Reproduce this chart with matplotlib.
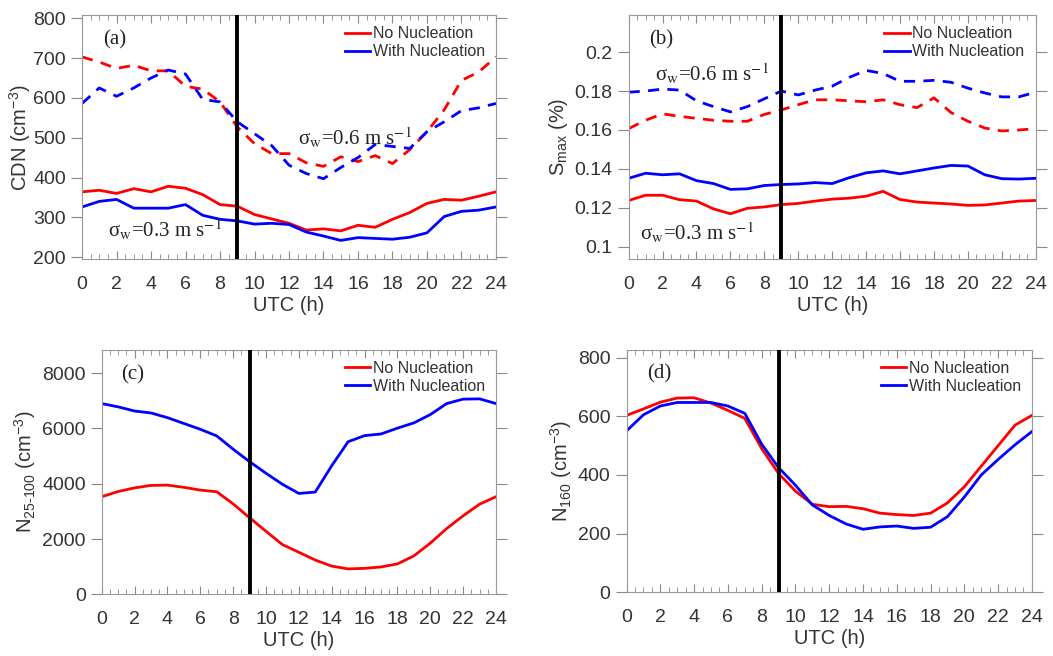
import matplotlib
matplotlib.use("Agg")
import matplotlib.pyplot as plt
from matplotlib.ticker import MultipleLocator

plt.rcParams.update({
    "font.family": "Liberation Sans",
    "mathtext.fontset": "custom",
    "mathtext.rm": "Liberation Sans",
    "mathtext.it": "Liberation Sans:italic",
    "text.color": "#333333",
    "axes.labelcolor": "#333333",
    "xtick.color": "#888888",
    "ytick.color": "#888888",
    "xtick.labelcolor": "#333333",
    "ytick.labelcolor": "#333333",
    "axes.edgecolor": "#999999",
    "font.size": 13,
})

# ── Data ─────────────────────────────────────────────────────────────
hours = list(range(25))

cdn_no_06 = [703, 690, 674, 682, 668, 668, 629, 622, 590, 527, 485, 460, 460,
             437, 428, 452, 440, 455, 435, 470, 515, 570, 644, 665, 703]
cdn_nuc_06 = [586, 625, 604, 625, 650, 670, 660, 596, 590, 540, 510, 480, 431,
              410, 397, 425, 450, 483, 478, 473, 515, 540, 568, 575, 586]
cdn_no_03 = [364, 368, 360, 372, 364, 378, 373, 357, 332, 328, 307, 296, 285,
             268, 271, 266, 280, 275, 295, 312, 335, 345, 343, 353, 364]
cdn_nuc_03 = [326, 340, 345, 323, 323, 323, 332, 305, 295, 291, 283, 285, 282,
              263, 253, 242, 249, 247, 245, 250, 261, 302, 315, 318, 326]

smax_nuc_06 = [0.1794, 0.180, 0.181, 0.1805, 0.175, 0.172, 0.1693, 0.172,
               0.176, 0.180, 0.178, 0.1805, 0.1825, 0.187, 0.1906, 0.189,
               0.185, 0.185, 0.1855, 0.1845, 0.1815, 0.179, 0.177, 0.177, 0.1794]
smax_no_06 = [0.1607, 0.165, 0.1683, 0.167, 0.166, 0.165, 0.1645, 0.1645,
              0.168, 0.1703, 0.173, 0.1755, 0.1755, 0.175, 0.1745, 0.1755,
              0.173, 0.1715, 0.1765, 0.169, 0.1645, 0.161, 0.1595, 0.160, 0.1607]
smax_nuc_03 = [0.1352, 0.1378, 0.137, 0.1375, 0.134, 0.1325, 0.1295, 0.1298,
               0.1315, 0.132, 0.1323, 0.133, 0.1325, 0.1355, 0.138, 0.139,
               0.1375, 0.139, 0.1405, 0.1418, 0.1415, 0.137, 0.135, 0.1348, 0.1352]
smax_no_03 = [0.1238, 0.1265, 0.1265, 0.1242, 0.1235, 0.1195, 0.117, 0.1198,
              0.1205, 0.1217, 0.1223, 0.1235, 0.1245, 0.125, 0.126, 0.1285,
              0.1243, 0.123, 0.1225, 0.122, 0.1213, 0.1215, 0.1225, 0.1235, 0.1238]

n25_no = [3530, 3720, 3850, 3940, 3950, 3870, 3770, 3710, 3270, 2770, 2280,
          1800, 1520, 1240, 1020, 920, 940, 990, 1100, 1390, 1850, 2380, 2840,
          3260, 3530]
n25_nuc = [6900, 6780, 6630, 6560, 6390, 6180, 5970, 5730, 5250, 4800, 4380,
           3980, 3650, 3700, 4650, 5520, 5740, 5800, 6010, 6200, 6500, 6900,
           7060, 7070, 6900]

n160_no = [603, 625, 648, 662, 663, 645, 620, 593, 490, 405, 345, 300, 292,
           293, 285, 270, 265, 262, 270, 305, 360, 430, 500, 570, 603]
n160_nuc = [550, 605, 635, 647, 647, 647, 635, 610, 505, 425, 365, 298, 262,
            233, 215, 223, 226, 218, 222, 258, 325, 400, 453, 503, 548]

RED = "#ff0000"
BLUE = "#0000ff"
SERIF = "Liberation Serif"

fig = plt.figure(figsize=(10.53, 6.56), dpi=100)
ax_a = fig.add_axes([0.0779, 0.605, 0.3931, 0.372])
ax_b = fig.add_axes([0.597, 0.605, 0.3866, 0.372])
ax_c = fig.add_axes([0.0966, 0.094, 0.3744, 0.373])
ax_d = fig.add_axes([0.595, 0.097, 0.385, 0.370])


def style(ax, ylim, ymajor, label, ylabel, ypad=3):
    ax.set_xlim(0, 24)
    ax.set_ylim(*ylim)
    ax.xaxis.set_major_locator(MultipleLocator(2))
    ax.xaxis.set_minor_locator(MultipleLocator(0.5))
    ax.yaxis.set_major_locator(MultipleLocator(ymajor))
    ax.tick_params(axis="x", which="both", direction="in", top=True,
                   labelsize=14, pad=12)
    ax.tick_params(axis="x", which="major", length=6)
    ax.tick_params(axis="x", which="minor", length=3.5)
    ax.tick_params(axis="y", direction="out", right=True, length=8,
                   labelsize=14)
    ax.set_xlabel("UTC (h)", fontsize=14.5, labelpad=2)
    ax.set_ylabel(ylabel, fontsize=14.5, labelpad=ypad)
    ax.axvline(9, color="black", lw=2.8, zorder=5)
    ax.text(0.05, 0.88, label, transform=ax.transAxes, family=SERIF,
            fontsize=15, color="#222222")
    ax.legend(loc="upper right", frameon=False, fontsize=11.5,
              handlelength=1.6, handletextpad=0.15, labelspacing=0.2,
              borderaxespad=0.3)


# (a) CDN
ax_a.plot(hours, cdn_no_03, color=RED, lw=2, label="No Nucleation")
ax_a.plot(hours, cdn_nuc_03, color=BLUE, lw=2, label="With Nucleation")
ax_a.plot(hours, cdn_no_06, color=RED, lw=2, ls=(0, (4, 3)))
ax_a.plot(hours, cdn_nuc_06, color=BLUE, lw=2, ls=(0, (4, 3)))
style(ax_a, (195, 808), 100, "(a)", r"CDN (cm$^{-3}$)", ypad=0)
ax_a.text(12.5, 500, "σ$_{\\mathrm{w}}$=0.6 m s$^{-1}$", family=SERIF,
          fontsize=15, va="center", math_fontfamily="stix", color="#222222")
ax_a.text(1.5, 268, "σ$_{\\mathrm{w}}$=0.3 m s$^{-1}$", family=SERIF,
          fontsize=15, va="center", math_fontfamily="stix", color="#222222")

# (b) Smax
ax_b.plot(hours, smax_no_03, color=RED, lw=2, label="No Nucleation")
ax_b.plot(hours, smax_nuc_03, color=BLUE, lw=2, label="With Nucleation")
ax_b.plot(hours, smax_no_06, color=RED, lw=2, ls=(0, (4, 3)))
ax_b.plot(hours, smax_nuc_06, color=BLUE, lw=2, ls=(0, (4, 3)))
style(ax_b, (0.0937, 0.219), 0.02, "(b)", r"S$_{\mathrm{max}}$ (%)")
ax_b.yaxis.set_major_formatter(plt.FuncFormatter(lambda v, p: f"{v:g}"))
ax_b.text(1.55, 0.1889, "σ$_{\\mathrm{w}}$=0.6 m s$^{-1}$", family=SERIF,
          fontsize=15, va="center", math_fontfamily="stix", color="#222222")
ax_b.text(0.67, 0.1069, "σ$_{\\mathrm{w}}$=0.3 m s$^{-1}$", family=SERIF,
          fontsize=15, va="center", math_fontfamily="stix", color="#222222")

# (c) N25-100
ax_c.plot(hours, n25_no, color=RED, lw=2, label="No Nucleation")
ax_c.plot(hours, n25_nuc, color=BLUE, lw=2, label="With Nucleation")
style(ax_c, (0, 8850), 2000, "(c)", r"N$_{\mathrm{25‐100}}$ (cm$^{-3}$)")

# (d) N160
ax_d.plot(hours, n160_no, color=RED, lw=2, label="No Nucleation")
ax_d.plot(hours, n160_nuc, color=BLUE, lw=2, label="With Nucleation")
style(ax_d, (0, 827), 200, "(d)", r"N$_{\mathrm{160}}$ (cm$^{-3}$)")

fig.savefig("out.png", dpi=100)
